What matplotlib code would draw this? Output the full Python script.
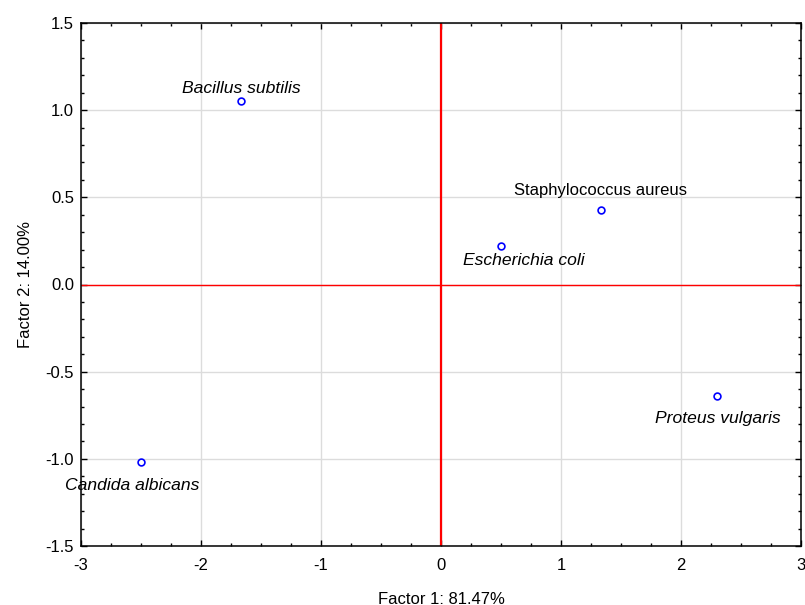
import matplotlib
matplotlib.use("Agg")
import matplotlib.pyplot as plt
from matplotlib.ticker import MultipleLocator, FormatStrFormatter

names = ["Bacillus subtilis", "Staphylococcus aureus", "Escherichia coli",
         "Proteus vulgaris", "Candida albicans"]
f1 = [-1.67, 1.33, 0.50, 2.30, -2.50]
f2 = [1.05, 0.43, 0.22, -0.64, -1.02]
italic = [True, False, True, True, True]

# label placement (pixel offsets of text baseline-centre from the point)
label_dx = [1, 0, 23, 1, -9]
label_dy = [8, 15, -19, -27, -28]

plt.rcParams['font.family'] = ['Liberation Sans', 'DejaVu Sans']
fig = plt.figure(figsize=(8.05, 6.05), dpi=100)
ax = fig.add_axes([81/805, 1 - 546/605, 720/805, 523/605])

ax.set_xlim(-3, 3)
ax.set_ylim(-1.5, 1.5)
ax.xaxis.set_major_locator(MultipleLocator(1))
ax.xaxis.set_minor_locator(MultipleLocator(0.25))
ax.yaxis.set_major_locator(MultipleLocator(0.5))
ax.yaxis.set_minor_locator(MultipleLocator(0.1))
ax.xaxis.set_major_formatter(FormatStrFormatter('%g'))
ax.yaxis.set_major_formatter(FormatStrFormatter('%.1f'))
ax.tick_params(which='both', direction='in', top=True, right=True, labelsize=12, color='black')
ax.tick_params(axis='x', which='major', pad=9)
ax.tick_params(axis='y', which='major', pad=5)
ax.tick_params(which='major', length=4.5, width=1)
ax.tick_params(which='minor', length=2.5, width=1)
ax.grid(True, which='major', color='#dcdcdc', linewidth=1)
ax.set_axisbelow(True)
for s in ax.spines.values():
    s.set_linewidth(1.1)

ax.axvline(0, color='red', linewidth=1.6, zorder=2)
ax.axhline(0, color='red', linewidth=1.0, zorder=2)

ax.scatter(f1, f2, s=24, facecolors='white', edgecolors='blue', linewidths=1.2, zorder=3)
for n, x, y, it, dx, dy in zip(names, f1, f2, italic, label_dx, label_dy):
    ax.annotate(n, (x, y), xytext=(dx, dy), textcoords='offset pixels',
                ha='center', va='baseline', fontsize=12.6 if it else 12,
                style='italic' if it else 'normal', color='black', zorder=4)

ax.set_xlabel("Factor 1: 81.47%", fontsize=12, labelpad=13)
ax.set_ylabel("Factor 2: 14.00%", fontsize=12, labelpad=9)

fig.savefig("out.png", dpi=100)
